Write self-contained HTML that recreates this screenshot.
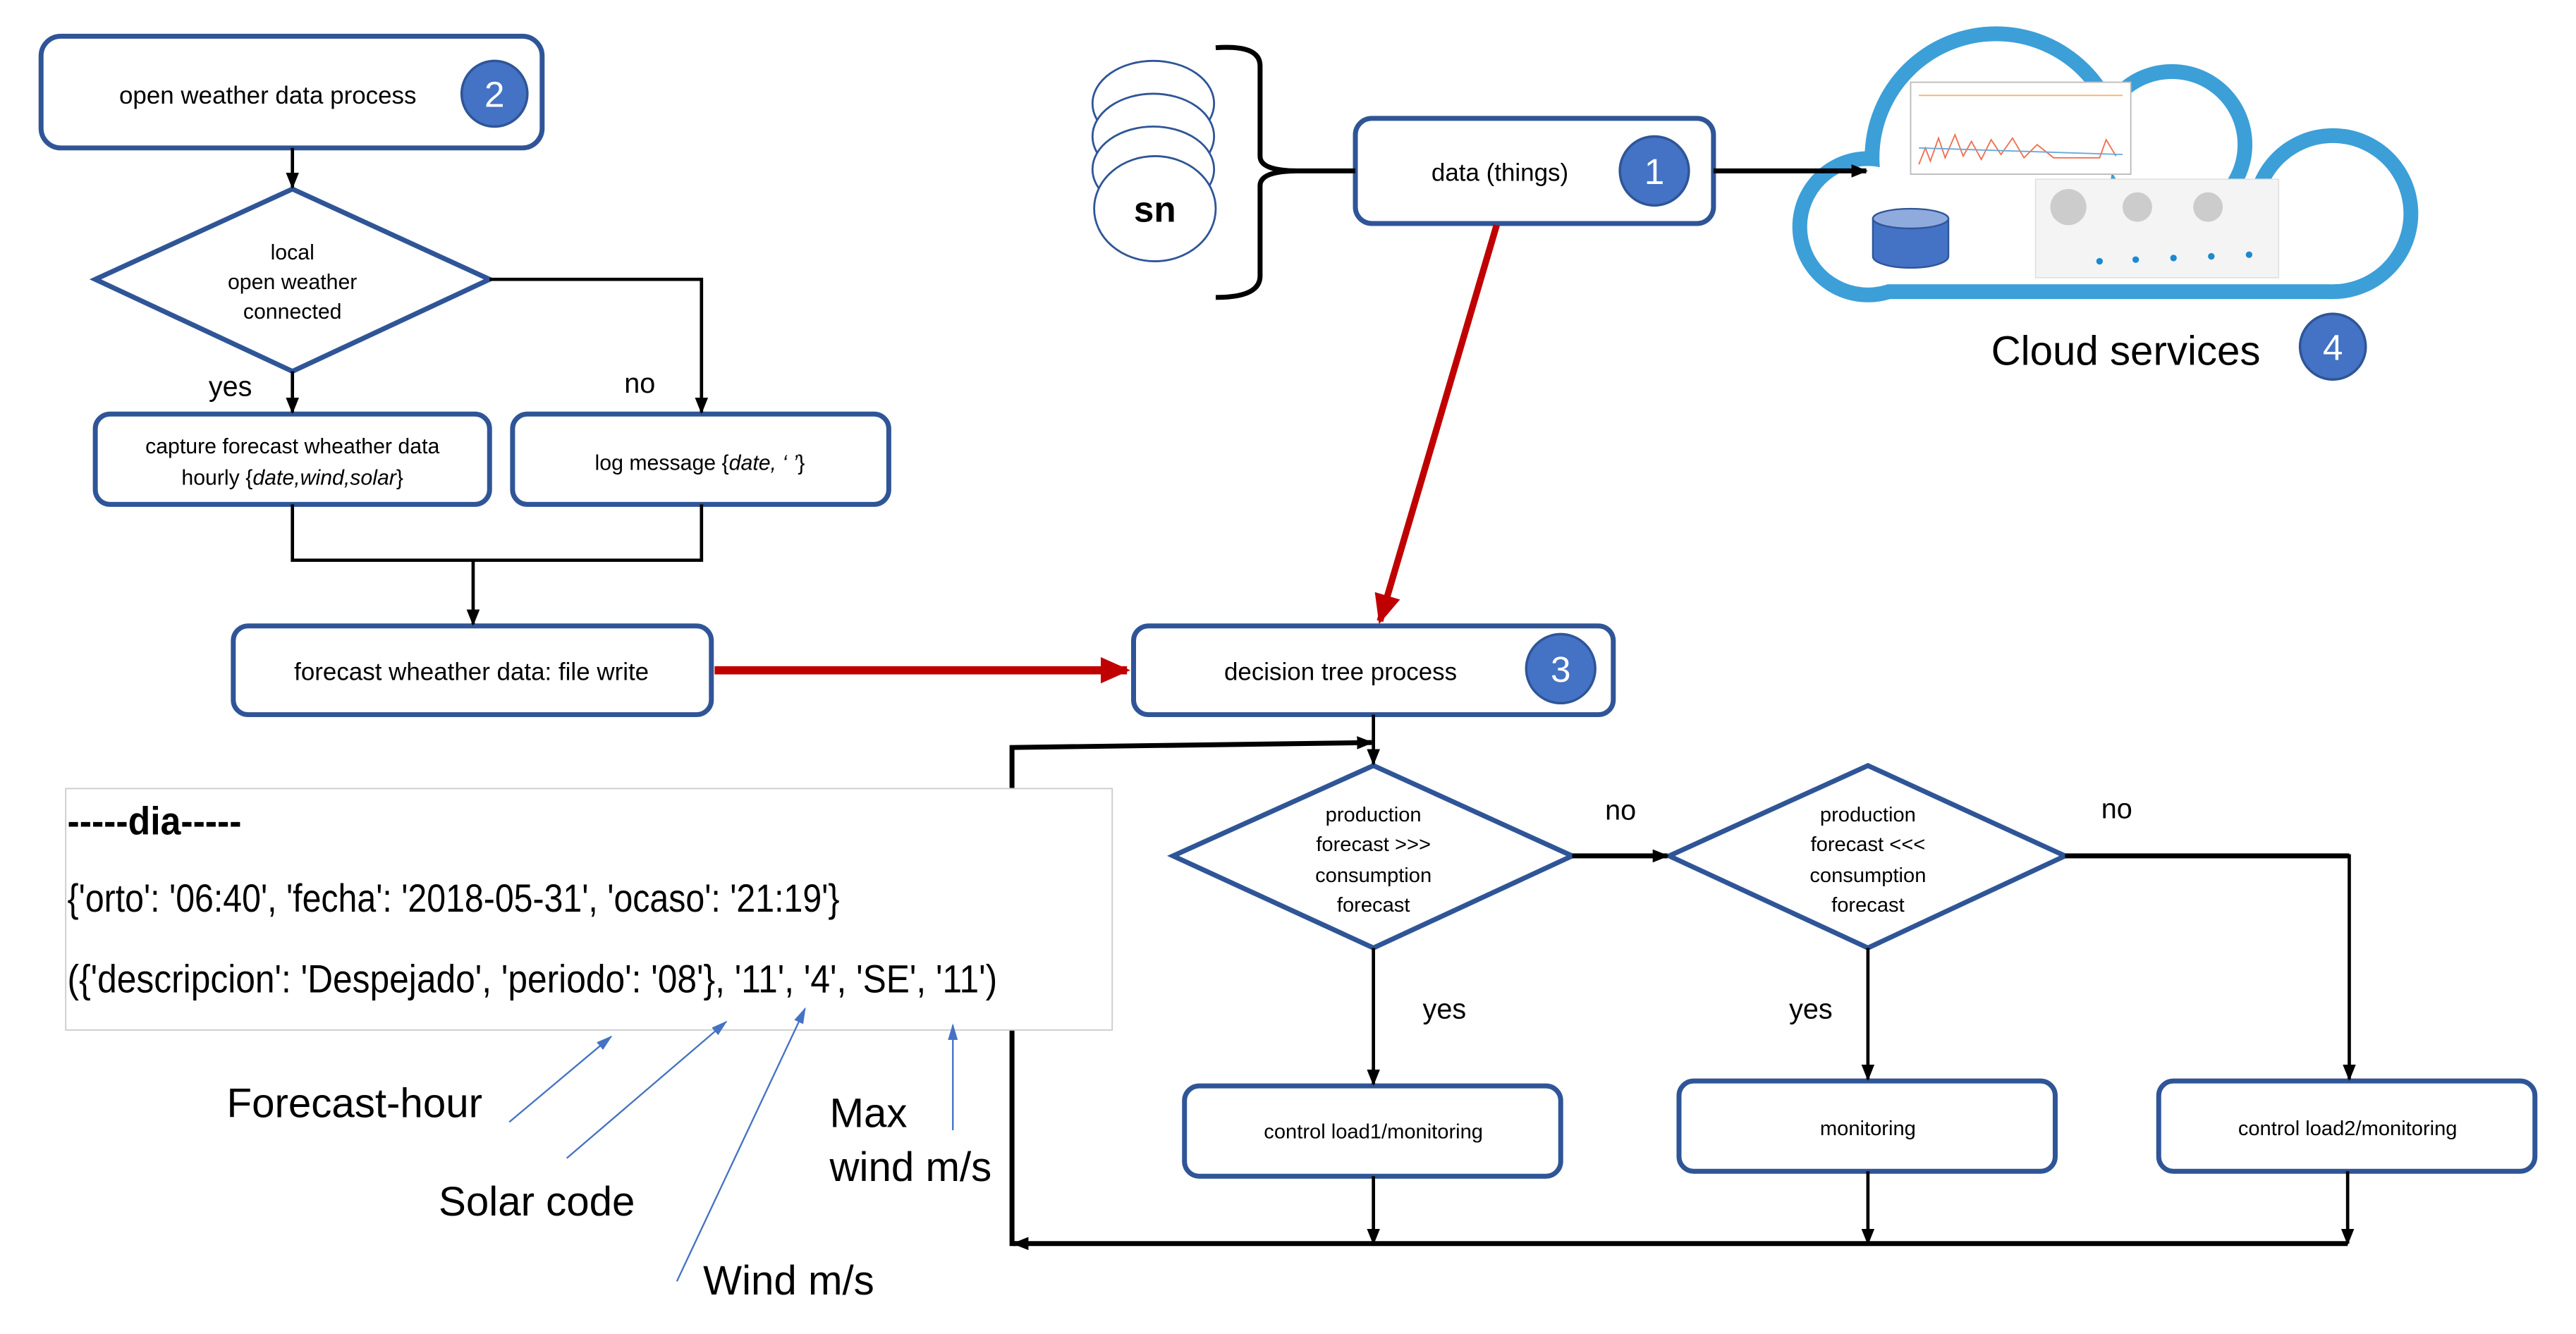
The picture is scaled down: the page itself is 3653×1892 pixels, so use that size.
<!DOCTYPE html>
<html><head><meta charset="utf-8"><style>
html,body{margin:0;padding:0;background:#fff;}
svg{display:block}
text{font-family:"Liberation Sans",sans-serif;fill:#000}
</style></head><body>
<svg width="3653" height="1892" viewBox="0 0 1568 812" xmlns="http://www.w3.org/2000/svg">
<defs>
<marker id="ab" markerWidth="10" markerHeight="10" refX="9" refY="5" orient="auto" markerUnits="userSpaceOnUse"><path d="M0,1 L10,5 L0,9 z" fill="#000"/></marker>
<marker id="ar" markerWidth="18" markerHeight="16" refX="16" refY="8" orient="auto" markerUnits="userSpaceOnUse"><path d="M0,0 L18,8 L0,16 z" fill="#c00000"/></marker>
<marker id="abl" markerWidth="10" markerHeight="10" refX="9" refY="5" orient="auto" markerUnits="userSpaceOnUse"><path d="M0,2 L10,5 L0,8 z" fill="#4472c4"/></marker>
</defs>
<g fill="#fff" stroke="#2f5597" stroke-width="3">
<rect x="25" y="22" width="305" height="68" rx="12"/>
<polygon points="58,170 178,115 298,170 178,226"/>
<rect x="58" y="252" width="240" height="55" rx="9"/>
<rect x="312" y="252" width="229" height="55" rx="9"/>
<rect x="142" y="381" width="291" height="54" rx="9"/>
<rect x="690" y="381" width="292" height="54" rx="9"/>
<rect x="825" y="72" width="218" height="64" rx="10"/>
<polygon points="714,521 836,466 957,521 836,577"/>
<polygon points="1016,521 1137,466 1257,521 1137,577"/>
<rect x="721" y="661" width="229" height="55" rx="9"/>
<rect x="1022" y="658" width="229" height="55" rx="9"/>
<rect x="1314" y="658" width="229" height="55" rx="9"/>
</g>
<g fill="#4472c4" stroke="#2f5597" stroke-width="1.5">
<circle cx="301" cy="57" r="20"/><circle cx="1007" cy="104" r="21"/>
<circle cx="950" cy="407" r="21"/><circle cx="1420" cy="211" r="20"/>
</g>
<g font-size="22" text-anchor="middle" style="fill:#fff">
<text x="301" y="65" style="fill:#fff">2</text><text x="1007" y="112" style="fill:#fff">1</text>
<text x="950" y="415" style="fill:#fff">3</text><text x="1420" y="219" style="fill:#fff">4</text>
</g>
<g font-size="15" text-anchor="middle">
<text x="163" y="63">open weather data process</text>
<text x="178" y="158" font-size="13">local</text>
<text x="178" y="176" font-size="13">open weather</text>
<text x="178" y="194" font-size="13">connected</text>
<text x="178" y="276" font-size="13">capture forecast wheather data</text>
<text x="178" y="295" font-size="13">hourly {<tspan font-style="italic">date,wind,solar</tspan>}</text>
<text x="426" y="286" font-size="13">log message {<tspan font-style="italic">date, ‘ ’</tspan>}</text>
<text x="287" y="414">forecast wheather data: file write</text>
<text x="816" y="414">decision tree process</text>
<text x="913" y="110">data  (things)</text>
<text x="836" y="500" font-size="12.5">production</text>
<text x="836" y="518" font-size="12.5">forecast &gt;&gt;&gt;</text>
<text x="836" y="537" font-size="12.5">consumption</text>
<text x="836" y="555" font-size="12.5">forecast</text>
<text x="1137" y="500" font-size="12.5">production</text>
<text x="1137" y="518" font-size="12.5">forecast &lt;&lt;&lt;</text>
<text x="1137" y="537" font-size="12.5">consumption</text>
<text x="1137" y="555" font-size="12.5">forecast</text>
<text x="836" y="693" font-size="12.5">control load1/monitoring</text>
<text x="1137" y="691" font-size="12.5">monitoring</text>
<text x="1429" y="691" font-size="12.5">control load2/monitoring</text>
</g>
<g font-size="17">
<text x="127" y="241">yes</text><text x="380" y="239">no</text>
<text x="977" y="499">no</text><text x="1279" y="498">no</text>
<text x="866" y="620">yes</text><text x="1089" y="620">yes</text>
</g>
<!-- cloud -->
<g fill="#3c9fd8">
<circle cx="1137" cy="138" r="46"/><circle cx="1215" cy="96" r="80"/>
<circle cx="1322" cy="88" r="49"/><circle cx="1420" cy="130" r="52"/>
<rect x="1137" y="110" width="283" height="72"/>
</g>
<g fill="#fff">
<circle cx="1137" cy="138" r="37"/><circle cx="1215" cy="96" r="71"/>
<circle cx="1322" cy="88" r="40"/><circle cx="1420" cy="130" r="43"/>
<rect x="1137" y="110" width="283" height="63"/>
</g>
<rect x="1163" y="50" width="134" height="56" fill="#fff" stroke="#bbb" stroke-width="0.8"/>
<polyline points="1168,100 1172,90 1175,98 1180,84 1184,96 1190,82 1195,95 1200,86 1206,97 1212,85 1218,94 1225,84 1232,96 1240,88 1250,96 1262,96 1278,96 1282,85 1288,95" fill="none" stroke="#f07050" stroke-width="0.8"/>
<line x1="1168" y1="58" x2="1292" y2="58" stroke="#f7b070" stroke-width="0.8"/>
<line x1="1168" y1="90" x2="1292" y2="94" stroke="#6aa8d8" stroke-width="0.8"/>
<rect x="1239" y="109" width="148" height="60" fill="#f4f4f4" stroke="#ddd" stroke-width="0.6"/>
<circle cx="1259" cy="126" r="11" fill="#ccc"/><circle cx="1301" cy="126" r="9" fill="#ccc"/><circle cx="1344" cy="126" r="9" fill="#ccc"/>
<g fill="#1e88d0"><circle cx="1278" cy="159" r="2"/><circle cx="1300" cy="158" r="2"/><circle cx="1323" cy="157" r="2"/><circle cx="1346" cy="156" r="2"/><circle cx="1369" cy="155" r="2"/></g>
<path d="M1140,133 L1140,156 A23,7 0 0 0 1186,156 L1186,133" fill="#4472c4" stroke="#2f5597" stroke-width="1"/>
<ellipse cx="1163" cy="133" rx="23" ry="6" fill="#8faadc" stroke="#2f5597" stroke-width="1"/>
<text x="1212" y="222" font-size="25">Cloud services</text>
<g stroke="#000" stroke-width="2" fill="none">
<line x1="178" y1="90" x2="178" y2="114" marker-end="url(#ab)"/>
<line x1="178" y1="226" x2="178" y2="251" marker-end="url(#ab)"/>
<polyline points="298,170 427,170 427,251" marker-end="url(#ab)"/>
<polyline points="178,307 178,341 427,341 427,307"/>
<line x1="288" y1="341" x2="288" y2="380" marker-end="url(#ab)"/>
<line x1="1043" y1="104" x2="1136" y2="104" stroke-width="3" marker-end="url(#ab)"/>
<line x1="836" y1="435" x2="836" y2="465" marker-end="url(#ab)"/>
<polyline points="618,757 616,757 616,455 835,452" stroke-width="3" marker-end="url(#ab)"/>
<line x1="957" y1="521" x2="1015" y2="521" stroke-width="3" marker-end="url(#ab)"/>
<polyline points="1257,521 1430,521 1430,657" marker-end="url(#ab)"/>
<line x1="1430" y1="521" x2="1257" y2="521" stroke-width="3"/>
<line x1="836" y1="577" x2="836" y2="660" marker-end="url(#ab)"/>
<line x1="1137" y1="577" x2="1137" y2="657" marker-end="url(#ab)"/>
<line x1="836" y1="716" x2="836" y2="757" marker-end="url(#ab)"/>
<line x1="1137" y1="713" x2="1137" y2="757" marker-end="url(#ab)"/>
<line x1="1429" y1="713" x2="1429" y2="757" marker-end="url(#ab)"/>
<line x1="1429" y1="757" x2="617" y2="757" stroke-width="3" marker-end="url(#ab)"/>
<path d="M740,29 Q767,27 767,40 L767,95 Q767,104 790,104 L825,104 M790,104 Q767,104 767,113 L767,168 Q767,181 740,181" stroke-width="3"/>
</g>
<g stroke="#c00000" stroke-width="5" fill="none">
<line x1="435" y1="408" x2="686" y2="408" marker-end="url(#ar)"/>
<line x1="911" y1="137" x2="840" y2="378" stroke-width="4" marker-end="url(#ar)"/>
</g>
<g fill="#fff" stroke="#2f5597" stroke-width="1.2">
<ellipse cx="702" cy="63" rx="37" ry="26"/>
<ellipse cx="702" cy="83" rx="37" ry="26"/>
<ellipse cx="702" cy="103" rx="37" ry="26"/>
<ellipse cx="703" cy="127" rx="37" ry="32"/>
</g>
<text x="703" y="135" font-size="22" font-weight="bold" text-anchor="middle">sn</text>
<!-- code box -->
<rect x="40" y="480" width="637" height="147" fill="#fff" stroke="#ccc" stroke-width="0.8"/>
<g font-size="24" style="font-family:'Liberation Mono',monospace">
<text x="41" y="508" textLength="106" lengthAdjust="spacingAndGlyphs" font-weight="bold">-----dia-----</text>
<text x="41" y="555" textLength="470" lengthAdjust="spacingAndGlyphs">{'orto': '06:40', 'fecha': '2018-05-31', 'ocaso': '21:19'}</text>
<text x="41" y="604" textLength="566" lengthAdjust="spacingAndGlyphs">({'descripcion': 'Despejado', 'periodo': '08'}, '11', '4', 'SE', '11')</text>
</g>
<g stroke="#4472c4" stroke-width="1" fill="none">
<line x1="310" y1="683" x2="372" y2="631" marker-end="url(#abl)"/>
<line x1="345" y1="705" x2="442" y2="622" marker-end="url(#abl)"/>
<line x1="412" y1="780" x2="490" y2="614" marker-end="url(#abl)"/>
<line x1="580" y1="688" x2="580" y2="624" marker-end="url(#abl)"/>
</g>
<g font-size="25">
<text x="138" y="680">Forecast-hour</text>
<text x="267" y="740">Solar code</text>
<text x="505" y="686">Max</text>
<text x="505" y="719">wind m/s</text>
<text x="428" y="788">Wind m/s</text>
</g>
</svg>
</body></html>
